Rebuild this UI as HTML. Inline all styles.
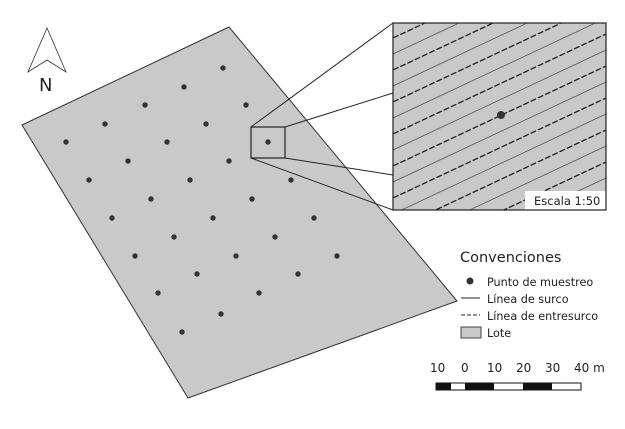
<!DOCTYPE html>
<html><head><style>body{margin:0;background:#fff}svg{display:block}text{font-family:"DejaVu Sans","Liberation Sans",sans-serif;fill:#222}</style></head><body>
<svg width="625" height="429" viewBox="0 0 625 429" xmlns="http://www.w3.org/2000/svg">
<defs><clipPath id="c"><rect x="393" y="23" width="213" height="187"/></clipPath></defs>
<polygon points="229,27 22,125 188,398 457,301" fill="#c9c9c9" stroke="#333" stroke-width="1"/>
<g fill="#333">
<circle cx="223" cy="68" r="2.7"/><circle cx="184" cy="87" r="2.7"/><circle cx="145" cy="105" r="2.7"/><circle cx="246" cy="105" r="2.7"/><circle cx="206" cy="124" r="2.7"/><circle cx="105" cy="124" r="2.7"/><circle cx="66" cy="142" r="2.7"/><circle cx="167" cy="142" r="2.7"/><circle cx="268" cy="142" r="2.7"/><circle cx="128" cy="161" r="2.7"/><circle cx="229" cy="161" r="2.7"/><circle cx="89" cy="180" r="2.7"/><circle cx="190" cy="180" r="2.7"/><circle cx="291" cy="180" r="2.7"/><circle cx="151" cy="199" r="2.7"/><circle cx="252" cy="199" r="2.7"/><circle cx="112" cy="218" r="2.7"/><circle cx="213" cy="218" r="2.7"/><circle cx="314" cy="218" r="2.7"/><circle cx="174" cy="237" r="2.7"/><circle cx="275" cy="237" r="2.7"/><circle cx="135" cy="256" r="2.7"/><circle cx="236" cy="256" r="2.7"/><circle cx="337" cy="256" r="2.7"/><circle cx="197" cy="274" r="2.7"/><circle cx="298" cy="274" r="2.7"/><circle cx="158" cy="293" r="2.7"/><circle cx="259" cy="293" r="2.7"/><circle cx="221" cy="314" r="2.7"/><circle cx="182" cy="332" r="2.7"/>
</g>
<rect x="251" y="127" width="34" height="31" fill="none" stroke="#222" stroke-width="1.2"/>
<g stroke="#222" stroke-width="1">
<line x1="251" y1="127" x2="393" y2="23"/><line x1="285" y1="127" x2="393" y2="93"/><line x1="285" y1="158" x2="393" y2="175"/><line x1="251" y1="158" x2="393" y2="210"/>
</g>
<rect x="393" y="23" width="213" height="187" fill="#c9c9c9"/>
<g clip-path="url(#c)">
<g stroke="#555" stroke-width="0.8">
<line x1="393" y1="22" x2="606" y2="-78"/>
<line x1="393" y1="54" x2="606" y2="-46"/>
<line x1="393" y1="86" x2="606" y2="-14"/>
<line x1="393" y1="118" x2="606" y2="18"/>
<line x1="393" y1="150" x2="606" y2="50"/>
<line x1="393" y1="182" x2="606" y2="82"/>
<line x1="393" y1="214" x2="606" y2="114"/>
<line x1="393" y1="246" x2="606" y2="146"/>
<line x1="393" y1="278" x2="606" y2="178"/>
<line x1="393" y1="310" x2="606" y2="210"/>
</g>
<g stroke="#111" stroke-width="1.2" stroke-dasharray="6,2">
<line x1="393" y1="6" x2="606" y2="-94"/>
<line x1="393" y1="38" x2="606" y2="-62"/>
<line x1="393" y1="70" x2="606" y2="-30"/>
<line x1="393" y1="102" x2="606" y2="2"/>
<line x1="393" y1="134" x2="606" y2="34"/>
<line x1="393" y1="166" x2="606" y2="66"/>
<line x1="393" y1="198" x2="606" y2="98"/>
<line x1="393" y1="230" x2="606" y2="130"/>
<line x1="393" y1="262" x2="606" y2="162"/>
<line x1="393" y1="294" x2="606" y2="194"/>
</g>
</g>
<circle cx="501" cy="115" r="4" fill="#333"/>
<rect x="525" y="191" width="81" height="19" fill="#fff"/>
<text x="534" y="205" font-size="11.5">Escala 1:50</text>
<rect x="393" y="23" width="213" height="187" fill="none" stroke="#222" stroke-width="1.2"/>
<polygon points="47,28 28,72 47,60 66,72" fill="#fff" stroke="#333" stroke-width="0.8"/>
<text x="39" y="91" font-size="18" font-family="Liberation Sans">N</text>
<text x="460" y="262" font-size="14.5">Convenciones</text>
<circle cx="470" cy="281" r="3.5" fill="#333"/>
<g font-size="11.2">
<text x="487" y="286">Punto de muestreo</text>
<text x="487" y="303">Línea de surco</text>
<text x="487" y="320">Línea de entresurco</text>
<text x="487" y="337">Lote</text>
</g>
<line x1="461" y1="298" x2="480" y2="298" stroke="#222"/>
<line x1="461" y1="315" x2="480" y2="315" stroke="#222" stroke-dasharray="4,2"/>
<rect x="461" y="327" width="20" height="11" fill="#c9c9c9" stroke="#444"/>
<g font-size="12"><text x="430" y="372">10</text><text x="461" y="372">0</text><text x="487" y="372">10</text><text x="516" y="372">20</text><text x="545" y="372">30</text><text x="574" y="372">40 m</text></g>
<rect x="436" y="383" width="145" height="7" fill="#fff" stroke="#111"/>
<g fill="#111"><rect x="436" y="383" width="15" height="7"/><rect x="465" y="383" width="29" height="7"/><rect x="523" y="383" width="29" height="7"/></g>
</svg>
</body></html>
